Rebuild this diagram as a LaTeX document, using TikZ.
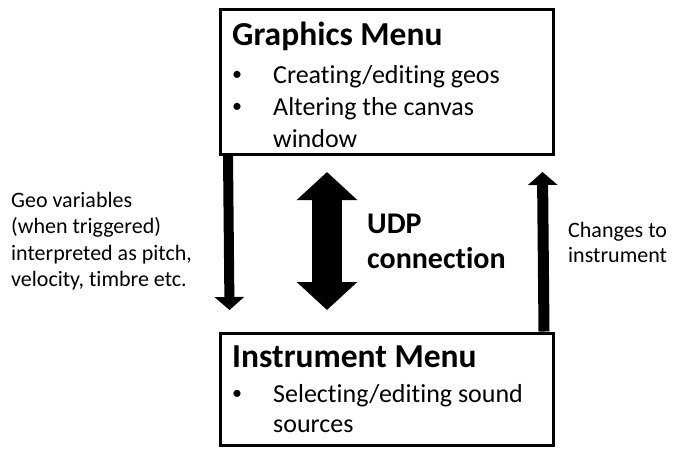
\documentclass[tikz,border=0pt]{standalone}
\usepackage{fontspec}
\setmainfont{Carlito}[Ligatures=NoCommon]
\usetikzlibrary{arrows.meta,calc}
\begin{document}
\begin{tikzpicture}[x=1pt,y=-1pt,
  menubox/.style={draw=black,line width=3pt,minimum width=333pt,inner sep=0pt},
  txt/.style={anchor=base west,inner sep=0pt,font=\fontsize{#1}{#1}\selectfont},
  bul/.style={anchor=base,inner sep=0pt,font=\fontsize{20}{20}\selectfont},
  title/.style={anchor=base west,inner sep=0pt,font=\fontsize{33.5}{33.5}\selectfont\bfseries},
  udplabel/.style={anchor=base west,inner sep=0pt,font=\fontsize{30}{30}\selectfont\bfseries},
  flowarrow/.style={line width=10pt,-{Triangle[width=29pt,length=13pt]}},
  udparrow/.style={line width=30pt,{Triangle[width=59pt,length=28pt]}-{Triangle[width=59pt,length=28pt]}}
]
\useasboundingbox (0,0) rectangle (677,448);

% the two menus
\node[menubox,minimum height=145pt] (gfx) at (386.5,81.5) {};
\node[menubox,minimum height=112pt] (ins) at (386.5,389) {};

% Graphics menu contents
\node[title] (gfxtitle) at (232,45) {Graphics Menu};
\node[bul] (gb1) at (237,80) {•};
\node[txt=26] (gt1) at (273,83) {Creating/editing geos};
\node[bul] (gb2) at (237,112) {•};
\node[txt=26] (gt2) at (273,115) {Altering the canvas};
\node[txt=26] (gt3) at (273,147) {window};

% Instrument menu contents
\node[title] (institle) at (232,367) {Instrument Menu};
\node[bul] (ib1) at (237,399) {•};
\node[txt=26] (it1) at (273,402) {Selecting/editing sound};
\node[txt=26] (it2) at (273,432) {sources};

% connectors between the menus
\coordinate (geoStart) at ($(gfx.south west)+(9.5,0)$);
\coordinate (geoEnd) at (229.5,310);
\coordinate (chgStart) at ($(ins.north east)+(-10.5,0)$);
\coordinate (chgEnd) at (542.5,172);
\coordinate (udpTop) at (327,172);
\coordinate (udpBot) at (327,310);

\draw[flowarrow] (geoStart) -- (geoEnd);
\draw[flowarrow,line width=11pt] (chgStart) -- (chgEnd);
\draw[udparrow] (udpTop) -- (udpBot);

% labels
\node[txt=22] (l1) at (11,207) {Geo variables};
\node[txt=22] (l2) at (11,233.5) {(when triggered)};
\node[txt=22] (l3) at (11,260) {interpreted as pitch,};
\node[txt=22] (l4) at (11,286.5) {velocity, timbre etc.};

\node[udplabel] (udp1) at (367,233) {UDP};
\node[udplabel] (udp2) at (367,268) {connection};

\node[txt=22] (r1) at (568,237) {Changes to};
\node[txt=22] (r2) at (568,262) {instrument};
\end{tikzpicture}
\end{document}
